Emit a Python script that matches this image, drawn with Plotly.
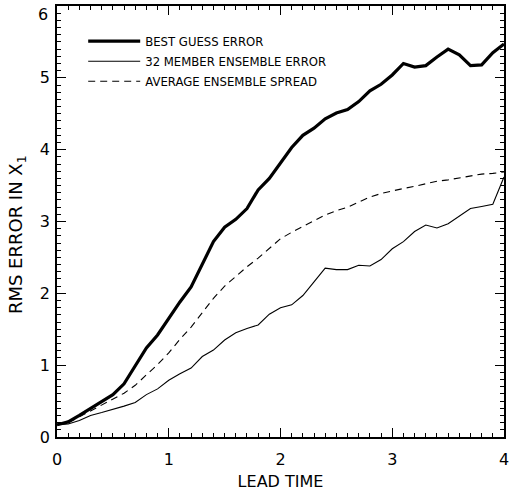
import plotly.graph_objects as go

lead_time = [round(0.1 * i, 1) for i in range(41)]

best_guess_error = [0.17, 0.21, 0.30, 0.40, 0.49, 0.59, 0.74, 0.98, 1.24, 1.42,
                    1.66, 1.88, 2.09, 2.40, 2.72, 2.92, 3.03, 3.18, 3.44, 3.60,
                    3.81, 4.03, 4.20, 4.30, 4.43, 4.51, 4.56, 4.67, 4.82, 4.91,
                    5.04, 5.20, 5.15, 5.17, 5.29, 5.40, 5.32, 5.17, 5.18, 5.35, 5.47]

ensemble_error = [0.17, 0.18, 0.23, 0.30, 0.34, 0.38, 0.43, 0.48, 0.59, 0.67,
                  0.79, 0.88, 0.96, 1.12, 1.21, 1.35, 1.45, 1.51, 1.56, 1.71,
                  1.80, 1.84, 1.97, 2.16, 2.35, 2.33, 2.33, 2.39, 2.38, 2.47,
                  2.62, 2.72, 2.86, 2.95, 2.91, 2.97, 3.07, 3.18, 3.21, 3.24, 3.62]

ensemble_spread = [0.17, 0.20, 0.28, 0.36, 0.44, 0.53, 0.61, 0.72, 0.86, 1.01,
                   1.17, 1.36, 1.53, 1.73, 1.93, 2.10, 2.24, 2.37, 2.49, 2.63,
                   2.76, 2.85, 2.93, 3.02, 3.09, 3.15, 3.20, 3.27, 3.34, 3.39,
                   3.43, 3.46, 3.49, 3.53, 3.56, 3.58, 3.61, 3.64, 3.66, 3.67, 3.69]

series_names = ["BEST GUESS ERROR", "32 MEMBER ENSEMBLE ERROR", "AVERAGE ENSEMBLE SPREAD"]
x_ticks = [0, 1, 2, 3, 4]
y_ticks = [0, 1, 2, 3, 4, 5, 6]

FONT = "DejaVu Sans"

fig = go.Figure()
fig.add_trace(go.Scatter(x=lead_time, y=best_guess_error, mode="lines",
                         name=series_names[0], legendgroup="a",
                         line=dict(color="black", width=3.2)))
fig.add_trace(go.Scatter(x=lead_time, y=ensemble_error, mode="lines",
                         name=series_names[1], legendgroup="b",
                         line=dict(color="black", width=1.1)))
fig.add_trace(go.Scatter(x=lead_time, y=ensemble_spread, mode="lines",
                         name=series_names[2], legendgroup="c",
                         line=dict(color="black", width=1.1, dash="7px,5px")))

axis_common = dict(
    showgrid=False, zeroline=False, showline=True, linecolor="black", linewidth=1.5,
    mirror="ticks", ticks="inside", ticklen=9, tickwidth=1.2, tickcolor="black",
    tickfont=dict(family=FONT, size=16, color="black"),
    ticklabeloverflow="allow",
    minor=dict(ticks="inside", ticklen=4, tickwidth=1, tickcolor="black", dtick=0.1),
)

fig.update_layout(
    width=513, height=495,
    margin=dict(l=57, r=4, t=6, b=58),
    paper_bgcolor="white", plot_bgcolor="white",
    font=dict(family=FONT, color="black"),
    showlegend=True,
    legend=dict(x=0.0586, y=0.952, xanchor="left", yanchor="top",
                bgcolor="rgba(0,0,0,0)", font=dict(family=FONT, size=11.7),
                itemwidth=52, tracegroupgap=1),
    xaxis=dict(range=[0, 4], tickvals=x_ticks, ticktext=[str(v) for v in x_ticks],
               ticklabelstandoff=7,
               title=dict(text="LEAD TIME", font=dict(family=FONT, size=16), standoff=8),
               **axis_common),
    yaxis=dict(range=[0, 6], tickvals=y_ticks[:-1], ticktext=[str(v) for v in y_ticks[:-1]],
               ticklabelstandoff=2,
               **axis_common),
    annotations=[
        dict(text="RMS ERROR IN X<sub>1</sub>", textangle=-90,
             xref="paper", yref="paper", x=-0.088, y=0.47,
             xanchor="center", yanchor="middle", showarrow=False,
             font=dict(family=FONT, size=18, color="black")),
        dict(text=str(y_ticks[-1]), xref="paper", yref="y", x=0, y=y_ticks[-1],
             xanchor="right", yanchor="middle", xshift=-7, yshift=-8, showarrow=False,
             font=dict(family=FONT, size=16, color="black")),
    ],
)

fig.write_html("out.html")
